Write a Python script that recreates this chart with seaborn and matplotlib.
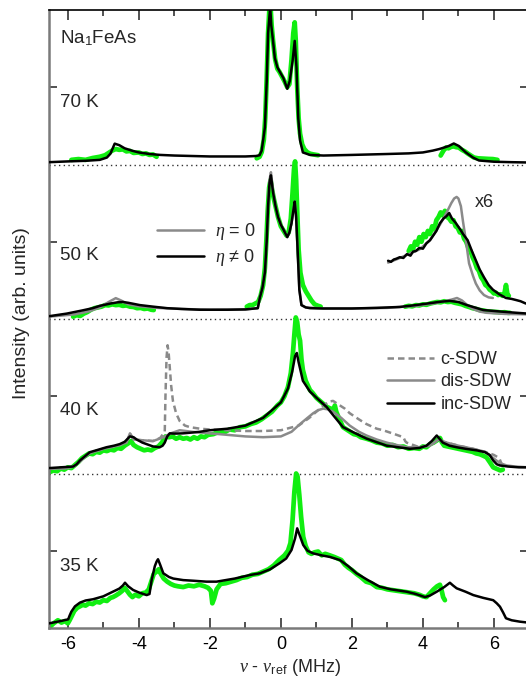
import numpy as np
import pandas as pd
import matplotlib
matplotlib.use("Agg")
import matplotlib.pyplot as plt
import seaborn as sns
from matplotlib.ticker import MultipleLocator, FixedLocator
from matplotlib.lines import Line2D

# ---------------- data ----------------
# 70 K
k70_x = [-6.53, -6.0, -5.5, -5.1, -4.9, -4.8, -4.68, -4.55, -4.4, -4.2, -4.0, -3.7, -3.4, -3.0, -2.5, -2.0,
         -1.5, -1.0, -0.7, -0.6, -0.54, -0.45, -0.40, -0.36, -0.30, -0.27, -0.23, -0.17, -0.10, -0.03, 0.07,
         0.18, 0.25, 0.33, 0.39, 0.44, 0.49, 0.54, 0.62, 0.82, 1.2, 2.0, 3.0, 3.6, 4.0, 4.28, 4.46, 4.6,
         4.73, 4.87, 5.01, 5.21, 5.41, 5.58, 6.0, 6.5, 6.96]
k70_y = [0.015, 0.02, 0.024, 0.03, 0.045, 0.07, 0.135, 0.125, 0.105, 0.09, 0.078, 0.068, 0.062, 0.058, 0.055,
         0.052, 0.052, 0.052, 0.055, 0.06, 0.09, 0.24, 0.53, 0.85, 1.02, 0.9, 0.82, 0.69, 0.63, 0.6, 0.56,
         0.49, 0.54, 0.67, 0.80, 0.63, 0.30, 0.156, 0.078, 0.062, 0.058, 0.062, 0.068, 0.072, 0.078, 0.09,
         0.1, 0.11, 0.12, 0.136, 0.12, 0.078, 0.045, 0.026, 0.018, 0.015, 0.013]
g70a_x = [-5.9, -5.7, -5.5, -5.3, -5.1, -4.95, -4.85, -4.75, -4.65, -4.55, -4.45, -4.35, -4.25, -4.15, -4.0,
          -3.9, -3.8, -3.7, -3.6, -3.5]
g70a_y = [0.03, 0.035, 0.03, 0.042, 0.05, 0.06, 0.075, 0.09, 0.1, 0.095, 0.098, 0.085, 0.088, 0.075, 0.078,
          0.068, 0.072, 0.062, 0.065, 0.05]
g70b_x = [-0.68, -0.6, -0.54, -0.48, -0.44, -0.40, -0.36, -0.32, -0.29, -0.26, -0.22, -0.16, -0.10, -0.04,
          0.03, 0.1, 0.18, 0.24, 0.3, 0.35, 0.39, 0.42, 0.46, 0.5, 0.54, 0.6, 0.66, 0.74, 0.82, 0.92, 1.05]
g70b_y = [0.04, 0.05, 0.08, 0.16, 0.3, 0.55, 0.85, 1.02, 1.02, 0.9, 0.8, 0.68, 0.62, 0.6, 0.57, 0.54, 0.5,
          0.52, 0.68, 0.85, 0.92, 0.8, 0.5, 0.3, 0.2, 0.13, 0.1, 0.08, 0.07, 0.065, 0.06]
g70c_x = [4.5, 4.58, 4.65, 4.72, 4.8, 4.87, 4.94, 5.01, 5.1, 5.18, 5.27, 5.35, 5.44, 5.55, 5.7, 5.85, 5.97, 6.1]
g70c_y = [0.058, 0.09, 0.11, 0.105, 0.115, 0.117, 0.112, 0.11, 0.095, 0.085, 0.07, 0.058, 0.045, 0.04,
          0.038, 0.036, 0.035, 0.03]

# 50 K
k50_x = [-6.53, -6.03, -5.6, -5.3, -5.1, -4.8, -4.6, -4.45, -4.3, -3.97, -3.6, -3.2, -2.8, -2.28, -1.5, -1.0,
         -0.65, -0.59, -0.52, -0.45, -0.40, -0.36, -0.32, -0.28, -0.22, -0.15, -0.08, 0.0, 0.07, 0.18, 0.24,
         0.30, 0.35, 0.39, 0.43, 0.46, 0.49, 0.52, 0.58, 0.7, 0.82, 1.2, 2.0, 2.7, 3.35, 3.8, 4.28, 4.5,
         4.76, 5.0, 5.24, 5.5, 5.7, 6.2, 6.65, 6.96]
k50_y = [0.018, 0.035, 0.055, 0.07, 0.085, 0.1, 0.108, 0.11, 0.105, 0.09, 0.08, 0.07, 0.065, 0.06, 0.06,
         0.062, 0.07, 0.14, 0.2, 0.3, 0.5, 0.73, 0.88, 0.93, 0.82, 0.73, 0.66, 0.61, 0.58, 0.53, 0.56, 0.62,
         0.7, 0.76, 0.66, 0.51, 0.35, 0.19, 0.09, 0.075, 0.07, 0.068, 0.068, 0.072, 0.078, 0.09, 0.105,
         0.112, 0.117, 0.11, 0.09, 0.072, 0.058, 0.048, 0.04, 0.035]
e50_x = [-6.53, -5.8, -5.4, -5.1, -4.85, -4.65, -4.5, -4.3, -4.0, -3.5, -2.8, -2.0, -1.0, -0.65, -0.59, -0.52,
         -0.45, -0.40, -0.36, -0.32, -0.28, -0.22, -0.15, -0.08, 0.0, 0.07, 0.18, 0.24, 0.30, 0.35, 0.39,
         0.43, 0.46, 0.49, 0.52, 0.58, 0.7, 1.2, 2.0, 3.0, 3.8, 4.28, 4.6, 4.8, 4.96, 5.1, 5.25, 5.41, 5.6,
         5.8, 6.3, 6.96]
e50_y = [0.015, 0.03, 0.05, 0.075, 0.11, 0.135, 0.12, 0.095, 0.082, 0.072, 0.065, 0.06, 0.062, 0.07, 0.14,
         0.2, 0.3, 0.5, 0.74, 0.9, 0.95, 0.83, 0.73, 0.66, 0.61, 0.58, 0.53, 0.56, 0.62, 0.7, 0.76, 0.66,
         0.51, 0.35, 0.19, 0.09, 0.075, 0.068, 0.068, 0.072, 0.085, 0.1, 0.115, 0.125, 0.136, 0.12, 0.09,
         0.065, 0.048, 0.04, 0.033, 0.03]
g50a_x = [-5.85, -5.75, -5.65, -5.55, -5.45, -5.35, -5.25, -5.15, -5.05, -4.95, -4.85, -4.75, -4.65, -4.55,
          -4.45, -4.35, -4.25, -4.15, -4.05, -3.95, -3.85, -3.75, -3.65, -3.58]
g50a_y = [0.015, 0.025, 0.02, 0.035, 0.045, 0.06, 0.07, 0.075, 0.08, 0.09, 0.088, 0.095, 0.09, 0.092, 0.085,
          0.088, 0.08, 0.078, 0.07, 0.072, 0.065, 0.068, 0.06, 0.058]
g50b_x = [-0.96, -0.88, -0.8, -0.72, -0.64, -0.57, -0.5, -0.45, -0.41, -0.37, -0.33, -0.29, -0.25, -0.2,
          -0.14, -0.08, 0.0, 0.08, 0.16, 0.22, 0.28, 0.33, 0.37, 0.40, 0.43, 0.46, 0.5, 0.55, 0.62, 0.7, 0.78,
          0.86, 0.95, 1.05, 1.12]
g50b_y = [0.08, 0.09, 0.09, 0.1, 0.11, 0.15, 0.22, 0.33, 0.5, 0.7, 0.85, 0.9, 0.84, 0.78, 0.72, 0.66, 0.6,
          0.57, 0.54, 0.56, 0.65, 0.82, 0.97, 1.02, 0.9, 0.7, 0.45, 0.3, 0.22, 0.18, 0.15, 0.12, 0.095, 0.085,
          0.08]
g50c_x = [3.5, 3.6, 3.7, 3.8, 3.9, 4.0, 4.1, 4.2, 4.3, 4.4, 4.5, 4.6, 4.7, 4.8, 4.9, 5.0, 5.1, 5.2, 5.3,
          5.4, 5.5, 5.6, 5.7, 5.8, 5.9, 6.0, 6.1, 6.2, 6.3, 6.4, 6.45]
g50c_y = [0.08, 0.085, 0.082, 0.09, 0.088, 0.095, 0.092, 0.1, 0.105, 0.11, 0.108, 0.115, 0.11, 0.112, 0.105,
          0.1, 0.095, 0.085, 0.078, 0.07, 0.065, 0.058, 0.055, 0.05, 0.048, 0.046, 0.045, 0.042, 0.044, 0.04,
          0.04]
# 50 K magnified (x6) wing
ki_x = [3.02, 3.1, 3.18, 3.25, 3.35, 3.45, 3.55, 3.65, 3.72, 3.8, 3.9, 4.0, 4.1, 4.2, 4.29, 4.38, 4.48, 4.58,
        4.66, 4.74, 4.82, 4.93, 5.05, 5.13, 5.26, 5.38, 5.49, 5.6, 5.72, 5.85, 5.97, 6.15, 6.34, 6.5, 6.62,
        6.75, 6.9]
ki_y = [0.377, 0.37, 0.385, 0.39, 0.40, 0.395, 0.42, 0.41, 0.436, 0.44, 0.46, 0.455, 0.49, 0.51, 0.54, 0.57,
        0.62, 0.65, 0.665, 0.686, 0.65, 0.62, 0.58, 0.55, 0.51, 0.44, 0.38, 0.32, 0.27, 0.22, 0.19, 0.16,
        0.136, 0.13, 0.123, 0.115, 0.10]
ei_x = [3.02, 3.3, 3.6, 3.9, 4.2, 4.48, 4.67, 4.8, 4.88, 4.95, 5.0, 5.07, 5.13, 5.21, 5.3, 5.41, 5.49, 5.6,
        5.72, 5.85, 5.97]
ei_y = [0.365, 0.39, 0.42, 0.45, 0.51, 0.61, 0.69, 0.75, 0.78, 0.79, 0.78, 0.73, 0.63, 0.51, 0.36, 0.28,
        0.23, 0.185, 0.155, 0.14, 0.136]
gi_x = [3.6, 3.66, 3.72, 3.78, 3.84, 3.9, 3.96, 4.02, 4.08, 4.14, 4.2, 4.26, 4.32, 4.38, 4.44, 4.5, 4.56,
        4.62, 4.68, 4.74, 4.8, 4.86, 4.92, 4.98, 5.04, 5.1, 5.16, 5.22, 5.28, 5.34, 5.4, 5.46, 5.52, 5.58,
        5.64, 5.7, 5.76, 5.82, 5.88, 5.94, 6.0, 6.06, 6.12, 6.18, 6.24, 6.3, 6.34, 6.38, 6.42]
gi_y = [0.44, 0.47, 0.45, 0.5, 0.48, 0.53, 0.5, 0.55, 0.53, 0.57, 0.55, 0.6, 0.58, 0.64, 0.66, 0.69, 0.67,
        0.7, 0.66, 0.65, 0.63, 0.64, 0.6, 0.59, 0.56, 0.57, 0.52, 0.5, 0.46, 0.44, 0.40, 0.37, 0.33, 0.31,
        0.27, 0.25, 0.22, 0.21, 0.19, 0.18, 0.165, 0.17, 0.155, 0.16, 0.15, 0.17, 0.22, 0.16, 0.15]

# 40 K
k40_x = [-6.53, -6.2, -5.85, -5.75, -5.66, -5.5, -5.38, -5.2, -4.91, -4.7, -4.54, -4.4, -4.25, -4.15, -4.06,
         -3.9, -3.78, -3.6, -3.41, -3.33, -3.27, -3.2, -3.13, -3.0, -2.75, -2.5, -2.28, -2.0, -1.5, -1.0,
         -0.5, -0.2, 0.0, 0.2, 0.32, 0.4, 0.45, 0.5, 0.62, 0.82, 1.05, 1.29, 1.5, 1.75, 2.1, 2.41, 2.98, 3.3,
         3.63, 3.9, 4.1, 4.25, 4.39, 4.56, 4.75, 4.95, 5.2, 5.51, 5.75, 5.88, 5.98, 6.08, 6.17, 6.4, 6.7, 6.96]
k40_y = [0.035, 0.04, 0.045, 0.06, 0.084, 0.115, 0.138, 0.15, 0.17, 0.18, 0.19, 0.205, 0.24, 0.235, 0.22,
         0.2, 0.19, 0.175, 0.17, 0.18, 0.2, 0.24, 0.26, 0.258, 0.26, 0.265, 0.27, 0.28, 0.29, 0.31, 0.36,
         0.42, 0.46, 0.55, 0.66, 0.76, 0.78, 0.72, 0.60, 0.53, 0.48, 0.43, 0.37, 0.30, 0.26, 0.226, 0.18,
         0.17, 0.16, 0.165, 0.18, 0.21, 0.246, 0.2, 0.18, 0.17, 0.16, 0.15, 0.138, 0.12, 0.084, 0.06, 0.052,
         0.045, 0.04, 0.04]
d40_x = [-6.53, -6.0, -5.8, -5.6, -5.4, -5.0, -4.6, -4.35, -4.25, -4.15, -3.9, -3.6, -3.4, -3.27, -3.25,
         -3.22, -3.19, -3.16, -3.13, -3.09, -3.04, -2.95, -2.85, -2.7, -2.56, -2.28, -2.0, -1.5, -1.0, -0.5,
         0.0, 0.5, 0.8, 1.0, 1.2, 1.35, 1.47, 1.6, 1.8, 1.94, 2.2, 2.41, 2.7, 2.88, 3.2, 3.45, 3.5, 3.54, 3.9,
         4.2, 4.44, 4.67, 5.0, 5.41, 5.75, 6.0, 6.15, 6.22, 6.3]
d40_y = [0.03, 0.035, 0.05, 0.09, 0.13, 0.16, 0.18, 0.2, 0.26, 0.22, 0.215, 0.21, 0.23, 0.27, 0.5, 0.75,
         0.83, 0.78, 0.69, 0.57, 0.47, 0.39, 0.34, 0.31, 0.30, 0.29, 0.285, 0.28, 0.275, 0.275, 0.28, 0.31,
         0.36, 0.40, 0.44, 0.465, 0.47, 0.45, 0.42, 0.39, 0.35, 0.32, 0.29, 0.28, 0.255, 0.235, 0.21, 0.2,
         0.17, 0.18, 0.22, 0.2, 0.18, 0.16, 0.14, 0.12, 0.1, 0.06, 0.05]
s40_x = [-6.53, -6.0, -5.8, -5.6, -5.4, -5.0, -4.6, -4.35, -4.25, -4.15, -3.9, -3.6, -3.3, -3.1, -2.85, -2.5,
         -2.0, -1.5, -1.0, -0.5, 0.0, 0.3, 0.54, 0.75, 0.91, 1.05, 1.19, 1.33, 1.47, 1.7, 1.94, 2.2, 2.41,
         2.7, 2.98, 3.25, 3.54, 3.9, 4.2, 4.32, 4.44, 4.55, 4.67, 5.0, 5.41, 5.75, 5.9, 6.07, 6.2, 6.36, 6.6,
         6.96]
s40_y = [0.03, 0.035, 0.05, 0.09, 0.13, 0.16, 0.18, 0.2, 0.26, 0.22, 0.215, 0.21, 0.235, 0.26, 0.28, 0.27,
         0.26, 0.25, 0.24, 0.235, 0.24, 0.27, 0.32, 0.36, 0.39, 0.41, 0.42, 0.415, 0.40, 0.36, 0.31, 0.27,
         0.246, 0.22, 0.2, 0.185, 0.17, 0.17, 0.18, 0.2, 0.22, 0.205, 0.2, 0.18, 0.16, 0.14, 0.115, 0.084,
         0.065, 0.052, 0.045, 0.04]
g40_x = [-6.5, -6.4, -6.3, -6.2, -6.1, -6.0, -5.9, -5.8, -5.7, -5.6, -5.5, -5.4, -5.3, -5.2, -5.1, -5.0,
         -4.9, -4.8, -4.7, -4.6, -4.5, -4.4, -4.3, -4.22, -4.15, -4.05, -3.95, -3.85, -3.75, -3.65, -3.55,
         -3.45, -3.35, -3.25, -3.15, -3.05, -2.95, -2.85, -2.75, -2.65, -2.55, -2.45, -2.35, -2.25, -2.15,
         -2.05, -1.9, -1.75, -1.6, -1.45, -1.3, -1.15, -1.0, -0.85, -0.7, -0.55, -0.4, -0.25, -0.1, 0.0, 0.1,
         0.2, 0.28, 0.34, 0.38, 0.42, 0.46, 0.5, 0.54, 0.58, 0.62, 0.7, 0.76, 0.82, 0.9, 1.0, 1.1, 1.2, 1.3,
         1.4, 1.48, 1.52, 1.56, 1.65, 1.75, 1.85, 1.95, 2.05, 2.15, 2.25, 2.4, 2.55, 2.7, 2.85, 3.0, 3.15,
         3.3, 3.45, 3.6, 3.75, 3.9, 4.0, 4.1, 4.2, 4.3, 4.4, 4.48, 4.54, 4.6, 4.7, 4.8, 4.9, 5.0, 5.1, 5.2,
         5.3, 5.4, 5.5, 5.6, 5.7, 5.79, 5.88, 5.98, 6.08, 6.18, 6.25]
g40_y = [0.01, 0.02, 0.015, 0.032, 0.025, 0.04, 0.035, 0.055, 0.075, 0.1, 0.115, 0.13, 0.125, 0.14, 0.135,
         0.15, 0.145, 0.155, 0.15, 0.165, 0.16, 0.18, 0.195, 0.21, 0.185, 0.17, 0.16, 0.15, 0.155, 0.15,
         0.165, 0.175, 0.2, 0.24, 0.235, 0.24, 0.225, 0.235, 0.225, 0.23, 0.22, 0.235, 0.225, 0.24, 0.235,
         0.25, 0.255, 0.27, 0.265, 0.285, 0.28, 0.3, 0.305, 0.32, 0.33, 0.35, 0.375, 0.4, 0.44, 0.46, 0.5,
         0.56, 0.65, 0.78, 0.9, 1.01, 0.98, 0.9, 0.86, 0.74, 0.67, 0.6, 0.57, 0.54, 0.52, 0.49, 0.47, 0.45,
         0.43, 0.42, 0.415, 0.44, 0.4, 0.35, 0.3, 0.285, 0.27, 0.255, 0.25, 0.235, 0.226, 0.215, 0.2, 0.195,
         0.18, 0.185, 0.17, 0.175, 0.16, 0.165, 0.16, 0.175, 0.17, 0.19, 0.2, 0.215, 0.23, 0.2, 0.18, 0.175,
         0.17, 0.165, 0.16, 0.155, 0.15, 0.145, 0.14, 0.13, 0.125, 0.115, 0.105, 0.075, 0.04, 0.03, 0.02,
         0.025]

# 35 K
k35_x = [-6.53, -6.2, -5.99, -5.95, -5.9, -5.8, -5.66, -5.5, -5.29, -5.0, -4.73, -4.55, -4.45, -4.39, -4.3,
         -4.16, -4.0, -3.78, -3.7, -3.64, -3.55, -3.5, -3.46, -3.4, -3.31, -3.15, -3.03, -2.75, -2.47, -2.1,
         -1.81, -1.3, -0.87, -0.59, -0.3, -0.03, 0.15, 0.30, 0.4, 0.46, 0.53, 0.63, 0.75, 0.91, 1.15, 1.38,
         1.66, 1.9, 2.13, 2.45, 2.79, 3.1, 3.54, 3.8, 4.06, 4.2, 4.39, 4.6, 4.76, 4.85, 4.95, 5.2, 5.42, 5.7,
         5.98, 6.08, 6.17, 6.26, 6.34, 6.5, 6.73, 6.96]
k35_y = [0.03, 0.045, 0.056, 0.08, 0.106, 0.14, 0.164, 0.178, 0.186, 0.205, 0.235, 0.255, 0.275, 0.293, 0.27,
         0.246, 0.23, 0.213, 0.22, 0.31, 0.40, 0.43, 0.445, 0.41, 0.354, 0.33, 0.32, 0.31, 0.306, 0.30, 0.30,
         0.32, 0.343, 0.354, 0.38, 0.42, 0.45, 0.505, 0.58, 0.645, 0.6, 0.537, 0.5, 0.483, 0.47, 0.46, 0.44,
         0.40, 0.354, 0.31, 0.267, 0.25, 0.235, 0.22, 0.2, 0.21, 0.235, 0.265, 0.293, 0.275, 0.257, 0.235,
         0.213, 0.195, 0.18, 0.16, 0.138, 0.1, 0.063, 0.05, 0.041, 0.035]
g35_x = [-6.5, -6.4, -6.28, -6.18, -6.08, -6.0, -5.95, -5.9, -5.82, -5.74, -5.66, -5.58, -5.5, -5.4, -5.3,
         -5.2, -5.1, -5.0, -4.9, -4.8, -4.73, -4.65, -4.55, -4.47, -4.4, -4.33, -4.25, -4.18, -4.1, -4.0,
         -3.9, -3.8, -3.72, -3.65, -3.58, -3.5, -3.44, -3.38, -3.3, -3.2, -3.1, -3.0, -2.9, -2.75, -2.6,
         -2.45, -2.3, -2.15, -2.05, -1.97, -1.93, -1.88, -1.81, -1.7, -1.55, -1.4, -1.25, -1.1, -0.95, -0.8,
         -0.65, -0.5, -0.35, -0.2, -0.05, 0.1, 0.2, 0.27, 0.33, 0.38, 0.43, 0.47, 0.52, 0.57, 0.63, 0.7,
         0.78, 0.86, 0.95, 1.05, 1.15, 1.25, 1.38, 1.5, 1.6, 1.7, 1.8, 1.9, 2.0, 2.13, 2.25, 2.4, 2.55, 2.7,
         2.85, 3.0, 3.15, 3.3, 3.45, 3.6, 3.75, 3.9, 4.0, 4.1, 4.2, 4.3, 4.4, 4.48, 4.53, 4.57, 4.62]
g35_y = [0.008, 0.03, 0.05, 0.035, 0.045, 0.03, 0.05, 0.073, 0.11, 0.13, 0.14, 0.15, 0.145, 0.16, 0.155,
         0.17, 0.165, 0.18, 0.175, 0.195, 0.2, 0.21, 0.225, 0.24, 0.26, 0.24, 0.215, 0.2, 0.215, 0.205, 0.225,
         0.23, 0.25, 0.3, 0.35, 0.365, 0.38, 0.35, 0.32, 0.3, 0.285, 0.275, 0.27, 0.265, 0.275, 0.27, 0.28,
         0.27, 0.26, 0.24, 0.16, 0.19, 0.25, 0.285, 0.29, 0.3, 0.31, 0.325, 0.33, 0.345, 0.35, 0.365, 0.38,
         0.405, 0.44, 0.47, 0.5, 0.55, 0.7, 0.88, 1.0, 0.98, 0.86, 0.72, 0.59, 0.53, 0.49, 0.48, 0.49, 0.495,
         0.47, 0.48, 0.47, 0.46, 0.45, 0.44, 0.41, 0.39, 0.375, 0.35, 0.33, 0.3, 0.29, 0.265, 0.26, 0.25,
         0.245, 0.24, 0.235, 0.23, 0.225, 0.215, 0.205, 0.2, 0.225, 0.25, 0.27, 0.28, 0.24, 0.2, 0.18]

panel_labels = ["70 K", "50 K", "40 K", "35 K"]
legend1_labels = [r"$\eta$ = 0", "$\\eta$ \u2260 0"]
legend2_labels = ["c-SDW", "dis-SDW", "inc-SDW"]
x_ticks_major = [-6, -4, -2, 0, 2, 4, 6]

# ---------------- style ----------------
sns.set_theme(style="ticks")
plt.rcParams["font.family"] = ["Liberation Sans", "DejaVu Sans"]
plt.rcParams["mathtext.fontset"] = "custom"
plt.rcParams["mathtext.rm"] = "Liberation Sans"
plt.rcParams["mathtext.sf"] = "Liberation Sans"
plt.rcParams["mathtext.it"] = "Liberation Serif:italic"

GREEN = "#11ee11"
GRAY = "#8a8a8a"
BLACK = "#000000"

fig = plt.figure(figsize=(5.26, 6.79), dpi=100)
ax = fig.add_axes([49 / 526, 1 - 628 / 679, 479 / 526, 618 / 679])


def draw(xs, ys, off, color, lw, ls="-", z=2):
    df = pd.DataFrame({"x": xs, "y": np.asarray(ys, dtype=float) + off})
    sns.lineplot(data=df, x="x", y="y", ax=ax, color=color, lw=lw, linestyle=ls,
                 estimator=None, sort=False, zorder=z)


GLW = 3.4
# green data
for (gx, gy), off in [((g70a_x, g70a_y), 3), ((g70b_x, g70b_y), 3), ((g70c_x, g70c_y), 3),
                      ((g50a_x, g50a_y), 2), ((g50b_x, g50b_y), 2), ((g50c_x, g50c_y), 2),
                      ((gi_x, gi_y), 2), ((g40_x, g40_y), 1), ((g35_x, g35_y), 0)]:
    draw(gx, gy, off, GREEN, GLW, z=2)

# gray simulations
draw(e50_x, e50_y, 2, GRAY, 1.8, z=3)
draw(ei_x, ei_y, 2, GRAY, 1.8, z=3)
draw(s40_x, s40_y, 1, GRAY, 1.8, z=3)
draw(d40_x, d40_y, 1, GRAY, 1.8, ls=(0, (2.6, 1.6)), z=3)

# black simulations
draw(k70_x, k70_y, 3, BLACK, 1.8, z=4)
draw(k50_x, k50_y, 2, BLACK, 1.8, z=4)
draw(ki_x, ki_y, 2, BLACK, 1.8, z=4)
draw(k40_x, k40_y, 1, BLACK, 1.8, z=4)
draw(k35_x, k35_y, 0, BLACK, 1.8, z=4)

# dotted baselines
for b in [1, 2, 3]:
    ax.axhline(b, color="#333333", lw=1.0, ls=(0, (1, 2.4)), zorder=1)

ax.set_xlim(-6.53, 6.96)
ax.set_ylim(0, 4)

# ticks
ax.xaxis.set_major_locator(FixedLocator(x_ticks_major))
ax.xaxis.set_minor_locator(MultipleLocator(1))
ax.yaxis.set_major_locator(FixedLocator([0.5, 1.5, 2.5, 3.5]))
ax.tick_params(axis="both", which="both", direction="in", top=True, right=True,
               labelleft=False, colors="#333333", labelcolor="black")
ax.tick_params(axis="x", which="major", length=7, width=1.2, labelsize=13, pad=6)
ax.tick_params(axis="x", which="minor", length=4, width=1.2)
ax.tick_params(axis="y", which="major", length=6, width=1.2)
ax.set_xticklabels([str(t) for t in x_ticks_major])

for side in ["left", "bottom"]:
    ax.spines[side].set_color("#7a7a7a")
    ax.spines[side].set_linewidth(1.8)
ax.spines["top"].set_color("black")
ax.spines["top"].set_linewidth(1.2)
ax.spines["right"].set_color("black")

ax.set_xlabel(r"$\nu$ - $\nu_{\mathrm{ref}}$ (MHz)", fontsize=13)
ax.xaxis.set_label_coords((290 - 49) / 479, (628 - 657) / 618)
ax.set_ylabel("Intensity (arb. units)", fontsize=14)
ax.yaxis.set_label_coords((30 - 49) / 479, (628 - 313) / 618)

# texts
ax.text(-6.23, 3.88, r"Na$_{\mathrm{1}}$FeAs", fontsize=13.5, ha="left", va="top")
for lab, yy in zip(panel_labels, [3.40, 2.41, 1.41, 0.40]):
    ax.text(-6.23, yy, lab, fontsize=13.5, ha="left", va="center")
ax.text(5.46, 2.757, "x6", fontsize=13, ha="left", va="center")


# legends
def px2ax(px, py):
    return ((px - 49) / 479, (628 - py) / 618)


h1 = [Line2D([], [], color=GRAY, lw=1.8), Line2D([], [], color=BLACK, lw=1.8)]
leg1 = ax.legend(h1, legend1_labels, loc="upper left", bbox_to_anchor=px2ax(157, 221), frameon=False,
                 fontsize=13, handlelength=2.6, handletextpad=0.6, labelspacing=0.3, borderpad=0,
                 borderaxespad=0)
ax.add_artist(leg1)
h2 = [Line2D([], [], color=GRAY, lw=1.8, ls=(0, (2.6, 1.6))), Line2D([], [], color=GRAY, lw=1.8),
      Line2D([], [], color=BLACK, lw=1.8)]
ax.legend(h2, legend2_labels, loc="upper left", bbox_to_anchor=px2ax(387, 351), frameon=False,
          fontsize=13, handlelength=2.6, handletextpad=0.35, labelspacing=0.3, borderpad=0,
          borderaxespad=0)

fig.savefig("out.png", dpi=100)
